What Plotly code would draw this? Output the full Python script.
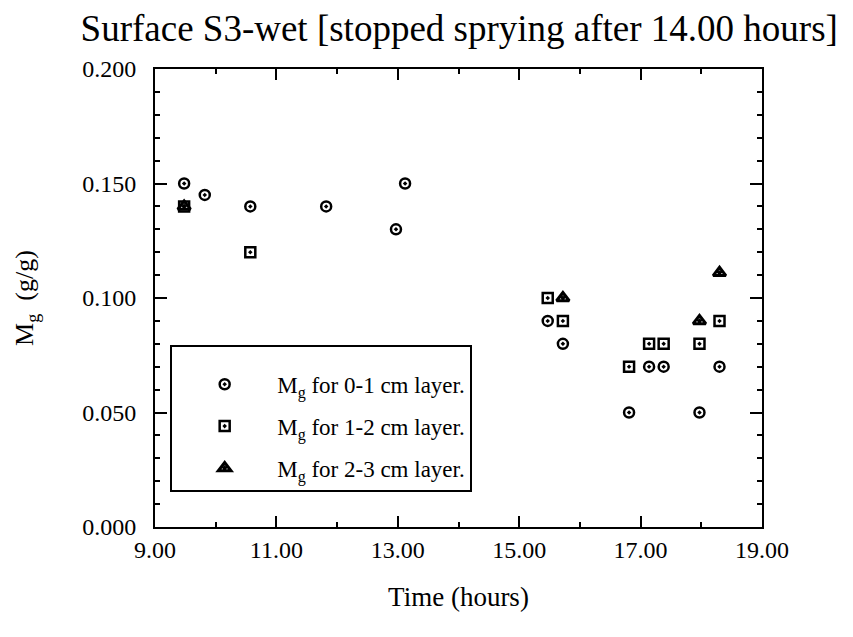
import plotly.graph_objects as go

# 0-1 cm layer
t_layer1 = [9.48, 9.82, 10.57, 11.82, 12.97, 13.12, 15.47, 15.72, 16.81, 17.14, 17.38, 17.97, 18.30]
mg_layer1 = [0.150, 0.145, 0.140, 0.140, 0.130, 0.150, 0.090, 0.080, 0.050, 0.070, 0.070, 0.050, 0.070]

# 1-2 cm layer
t_layer2 = [9.48, 10.57, 15.47, 15.72, 16.81, 17.14, 17.38, 17.97, 18.30]
mg_layer2 = [0.140, 0.120, 0.100, 0.090, 0.070, 0.080, 0.080, 0.080, 0.090]

# 2-3 cm layer
t_layer3 = [9.48, 15.72, 17.97, 18.30]
mg_layer3 = [0.140, 0.100, 0.090, 0.111]

x_ticks = [9, 11, 13, 15, 17, 19]
y_ticks = [0.0, 0.05, 0.10, 0.15, 0.20]

FONT = "Liberation Serif"

fig = go.Figure()

fig.add_trace(go.Scatter(
    x=t_layer1, y=mg_layer1, mode='markers',
    name='M<sub>g</sub> for 0-1 cm layer.', legendgroup='a',
    marker=dict(symbol='circle-open-dot', size=10, color='black', line=dict(width=2.5, color='black'))
))
fig.add_trace(go.Scatter(
    x=t_layer2, y=mg_layer2, mode='markers',
    name='M<sub>g</sub> for 1-2 cm layer.', legendgroup='b',
    marker=dict(symbol='square-open-dot', size=10, color='black', line=dict(width=2.5, color='black'))
))
fig.add_trace(go.Scatter(
    x=t_layer3, y=mg_layer3, mode='markers',
    name='M<sub>g</sub> for 2-3 cm layer.', legendgroup='c',
    marker=dict(symbol='triangle-up-open-dot', size=11, color='black', line=dict(width=3, color='black'))
))

axis_common = dict(
    showline=True, linewidth=2, linecolor='black', mirror='allticks',
    ticks='inside', tickcolor='black', tickwidth=2,
    showgrid=False, zeroline=False,
    tickfont=dict(family=FONT, size=24, color='black'),
)

fig.update_xaxes(
    range=[9, 19], tickvals=x_ticks, tickformat='.2f', ticklen=11,
    minor=dict(dtick=1, tick0=9, ticklen=5, tickcolor='black', tickwidth=2, ticks='inside'),
    title=dict(text='Time (hours)', font=dict(family=FONT, size=27, color='black'), standoff=25),
    **axis_common
)
fig.update_yaxes(
    range=[0, 0.2], tickvals=y_ticks, tickformat='.3f', ticklen=12,
    ticklabelstandoff=12,
    minor=dict(dtick=0.01, tick0=0, ticklen=5, tickcolor='black', tickwidth=2, ticks='inside'),
    title=dict(text='M<sub>g</sub>  (g/g)', font=dict(family=FONT, size=26, color='black'), standoff=41),
    **axis_common
)

fig.update_layout(
    width=853, height=637,
    margin=dict(l=147, r=99, t=61, b=118),
    paper_bgcolor='white', plot_bgcolor='white',
    title=dict(
        text='Surface S3-wet [stopped sprying after 14.00 hours]',
        font=dict(family=FONT, size=37, color='black'),
        x=0.529, xanchor='center', y=0.968, yanchor='middle'
    ),
    legend=dict(
        x=0.025, y=0.397, xanchor='left', yanchor='top',
        bordercolor='black', borderwidth=2, bgcolor='white',
        font=dict(family=FONT, size=23, color='black'),
        title=dict(text='&nbsp;', font=dict(size=12)),
        itemwidth=95, tracegroupgap=9,
    ),
    showlegend=True,
)

fig.write_html("out.html")
